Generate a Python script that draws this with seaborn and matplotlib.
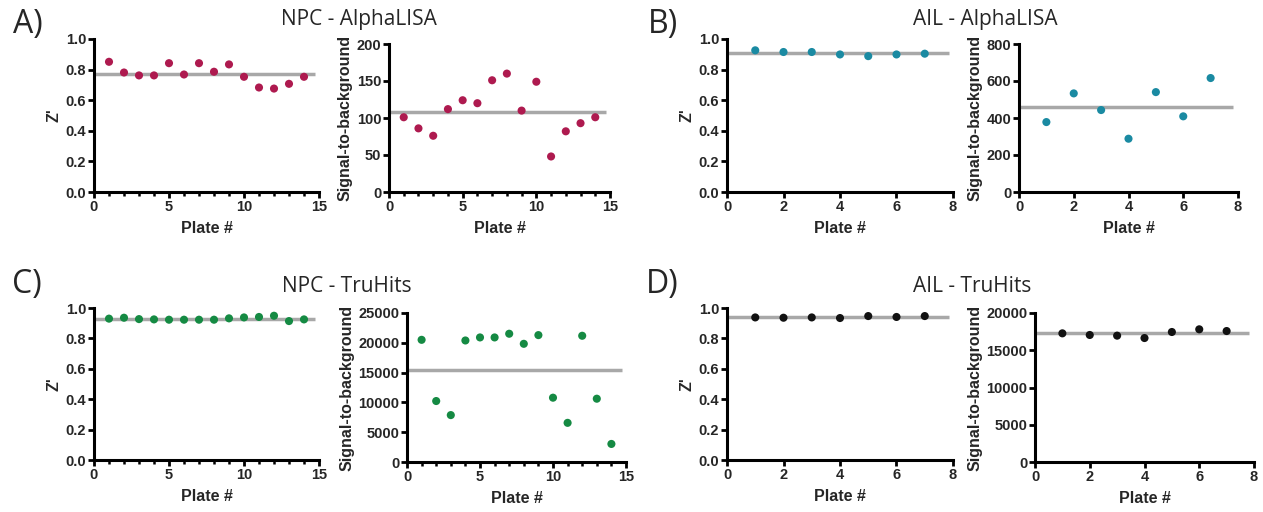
import numpy as np
import pandas as pd
import matplotlib
matplotlib.use("Agg")
import matplotlib.pyplot as plt
import seaborn as sns
from matplotlib.ticker import MultipleLocator, FormatStrFormatter

# ---------------- data ----------------
plates_npc = list(range(1, 15))
plates_ail = list(range(1, 8))

npc_alpha_z = [0.851, 0.781, 0.762, 0.762, 0.842, 0.768, 0.842, 0.786, 0.834, 0.753, 0.683, 0.676, 0.707, 0.753]
npc_alpha_sb = [101, 86, 76, 112, 124, 120, 151, 160, 110, 149, 48, 82, 93, 101]

ail_alpha_z = [0.926, 0.915, 0.915, 0.899, 0.888, 0.899, 0.904]
ail_alpha_sb = [378, 533, 443, 288, 540, 409, 616]

npc_tru_z = [0.930, 0.936, 0.927, 0.925, 0.923, 0.923, 0.923, 0.923, 0.932, 0.938, 0.941, 0.949, 0.914, 0.925]
npc_tru_sb = [20500, 10230, 7870, 20390, 20900, 20900, 21520, 19830, 21290, 10790, 6570, 21180, 10620, 3030]

ail_tru_z = [0.938, 0.936, 0.938, 0.934, 0.947, 0.941, 0.947]
ail_tru_sb = [17270, 17050, 16960, 16640, 17450, 17810, 17580]

titles = ["NPC - AlphaLISA", "AIL - AlphaLISA", "NPC - TruHits", "AIL - TruHits"]
letters = ["A)", "B)", "C)", "D)"]
colors = ["#AE1A4F", "#1A8AA2", "#158A43", "#111111"]

# ---------------- style ----------------
sns.set_style("ticks")
plt.rcParams['font.family'] = ['Liberation Sans', 'DejaVu Sans']
plt.rcParams['font.weight'] = 'bold'

W, H = 1263, 512
fig = plt.figure(figsize=(W / 100, H / 100), dpi=100)


def rect(x0, y0, x1, y1):
    return [x0 / W, (H - y1) / H, (x1 - x0) / W, (y1 - y0) / H]


LINE_COLOR = "#A8A8A8"


def panel(box, x, y, color, xmax, xmajor, xminor, ymax, ystep, ylabel, yfmt, line_end):
    ax = fig.add_axes(rect(*box))
    df = pd.DataFrame({"plate": x, "val": y})
    m = float(np.mean(y))
    ax.plot([0, line_end], [m, m], color=LINE_COLOR, lw=2.5, zorder=2, solid_capstyle='butt')
    sns.scatterplot(data=df, x="plate", y="val", ax=ax, color=color, s=34,
                    edgecolor='none', zorder=3, legend=False)
    ax.set_xlim(0, xmax)
    ax.set_ylim(0, ymax)
    ax.xaxis.set_major_locator(MultipleLocator(xmajor))
    if xminor:
        ax.xaxis.set_minor_locator(MultipleLocator(xminor))
    ax.yaxis.set_major_locator(MultipleLocator(ystep))
    ax.yaxis.set_major_formatter(FormatStrFormatter(yfmt))
    for s in ["top", "right"]:
        ax.spines[s].set_visible(False)
    for s in ["left", "bottom"]:
        ax.spines[s].set_linewidth(2.2)
        ax.spines[s].set_color("black")
    ax.tick_params(axis='both', which='major', length=4, width=2.0, labelsize=10.5,
                   pad=1.5, color='black', direction='out')
    ax.tick_params(axis='x', which='minor', length=3, width=1.8, color='black')
    for lab in ax.get_xticklabels() + ax.get_yticklabels():
        lab.set_fontweight('bold')
    ax.set_xlabel("Plate #", fontsize=11.5, fontweight='bold', labelpad=5)
    ax.set_ylabel(ylabel, fontsize=11.5, fontweight='bold', labelpad=3)
    ax.set_facecolor('none')
    return ax


# A
panel((94, 39, 319, 192), plates_npc, npc_alpha_z, colors[0], 15, 5, 1, 1.0, 0.2, "Z'", "%.1f", 14.7)
panel((389, 44, 610, 192), plates_npc, npc_alpha_sb, colors[0], 15, 5, 1, 200, 50, "Signal-to-background", "%d", 14.7)
# B
panel((727, 39, 953, 192), plates_ail, ail_alpha_z, colors[1], 8, 2, None, 1.0, 0.2, "Z'", "%.1f", 7.85)
panel((1019, 44, 1238, 192), plates_ail, ail_alpha_sb, colors[1], 8, 2, None, 800, 200, "Signal-to-background", "%d", 7.8)
# C
panel((94, 308, 319, 460), plates_npc, npc_tru_z, colors[2], 15, 5, 1, 1.0, 0.2, "Z'", "%.1f", 14.7)
panel((407, 313, 626, 462), plates_npc, npc_tru_sb, colors[2], 15, 5, 1, 25000, 5000, "Signal-to-background", "%d", 14.7)
# D
panel((727, 308, 953, 460), plates_ail, ail_tru_z, colors[3], 8, 2, None, 1.0, 0.2, "Z'", "%.1f", 7.85)
panel((1035, 313, 1254, 462), plates_ail, ail_tru_sb, colors[3], 8, 2, None, 20000, 5000, "Signal-to-background", "%d", 7.8)

# titles and letters
title_pos = [(281, 25), (913, 25), (282, 292), (913, 292)]
letter_pos = [(13, 33), (648, 33), (12, 293), (646, 293)]
for t, (px, py) in zip(titles, title_pos):
    fig.text(px / W, 1 - py / H, t, fontsize=15, fontweight='normal',
             family=['Open Sans', 'DejaVu Sans'], ha='left', va='baseline')
for l, (px, py) in zip(letters, letter_pos):
    fig.text(px / W, 1 - py / H, l, fontsize=23, fontweight='normal',
             family=['Open Sans', 'DejaVu Sans'], ha='left', va='baseline')

fig.savefig("out.png", dpi=100, facecolor='white')
